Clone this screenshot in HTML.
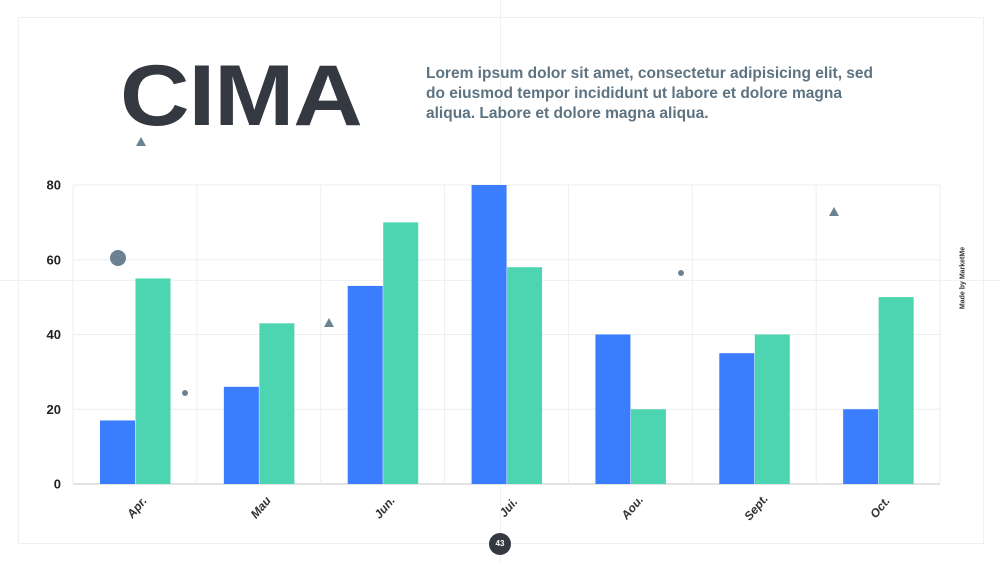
<!DOCTYPE html>
<html><head><meta charset="utf-8"><style>
body{margin:0;width:1000px;height:563px;background:#fff;overflow:hidden;font-family:"Liberation Sans",sans-serif;position:relative}
.abs{position:absolute}
</style></head><body>
<div class="abs" style="left:18px;top:17px;width:964px;height:525px;border:1px solid #eef0f2"></div>
<div class="abs" style="left:500px;top:0;width:1px;height:563px;background:#f0f1f3"></div>
<div class="abs" style="left:0;top:280px;width:1000px;height:1px;background:#f0f1f3"></div>
<div class="abs" style="left:120px;top:46px;font-size:86px;font-weight:bold;color:#343840;letter-spacing:-1px;line-height:100px;transform:scaleX(1.12);transform-origin:left center">CIMA</div>
<div class="abs" style="left:426px;top:64px;width:450px;font-size:15.5px;font-weight:bold;color:#5d7382;line-height:20px">Lorem ipsum dolor sit amet, consectetur adipisicing elit, sed do eiusmod tempor incididunt ut labore et dolore magna aliqua. Labore et dolore magna aliqua.</div>
<div class="abs" style="left:963px;top:278px;transform:translate(-50%,-50%) rotate(-90deg);font-size:7px;font-weight:bold;color:#333;white-space:nowrap">Made by MarketMe</div>
<div class="abs" style="left:489px;top:533px;width:22px;height:22px;border-radius:50%;background:#343840;color:#fff;font-size:8px;font-weight:bold;text-align:center;line-height:22px">43</div>
<svg class="abs" style="left:0;top:0" width="1000" height="563" id="chart"></svg>
<script>
const categories=["Apr.","Mau","Jun.","Jui.","Aou.","Sept.","Oct."];
const seriesBlue=[17,26,53,80,40,35,20];
const seriesGreen=[55,43,70,58,20,40,50];
const yTicks=[0,20,40,60,80];
const svg=document.getElementById('chart');
const NS='http://www.w3.org/2000/svg';
const x0=73,x1=940,yTop=185,yBot=484,yMax=80;
const bw=(x1-x0)/categories.length;
const y=v=>yBot-(v/yMax)*(yBot-yTop);
function el(t,a){const e=document.createElementNS(NS,t);for(const k in a)e.setAttribute(k,a[k]);svg.appendChild(e);return e;}
yTicks.forEach(t=>{
 const l=el('line',{x1:x0,x2:x1,y1:y(t),y2:y(t),stroke:t===0?'#d8dadd':'#eceef0','stroke-width':t===0?1.5:1});
 
 
 const tx=el('text',{x:61,y:y(t)+4.5,'text-anchor':'end','font-size':13,'font-weight':'bold',fill:'#222','font-family':'Liberation Sans'});
 tx.textContent=t;
 
 
});
for(let i=0;i<=categories.length;i++){
 const l=el('line',{x1:x0+i*bw,x2:x0+i*bw,y1:yTop,y2:yBot,stroke:'#eceef0'});
 
 
}
categories.forEach((c,i)=>{
 const bx=x0+i*bw+27;
 const b=el('rect',{x:bx,y:y(seriesBlue[i]),width:35,height:yBot-y(seriesBlue[i]),fill:'#3a7dff'});
 
 
 const g=el('rect',{x:bx+35.5,y:y(seriesGreen[i]),width:35,height:yBot-y(seriesGreen[i]),fill:'#4cd5b0'});
 
 
 const cx=x0+i*bw+bw/2;
 const t=el('text',{x:0,y:0,'text-anchor':'middle','font-size':12,'font-weight':'bold','font-style':'italic',fill:'#333','font-family':'Liberation Sans',transform:`translate(${cx+5},${510}) rotate(-50)`});
 t.textContent=c;
 
 
});
[[141,137],[329,318],[834,207]].forEach(p=>{const d=el('polygon',{points:`${p[0]-5},${p[1]+9} ${p[0]+5},${p[1]+9} ${p[0]},${p[1]}`,fill:'#6a8291'});});
[[118,258,8],[185,393,3],[681,273,3]].forEach(p=>{const d=el('circle',{cx:p[0],cy:p[1],r:p[2],fill:'#6a8291'});});
</script>
</body></html>
